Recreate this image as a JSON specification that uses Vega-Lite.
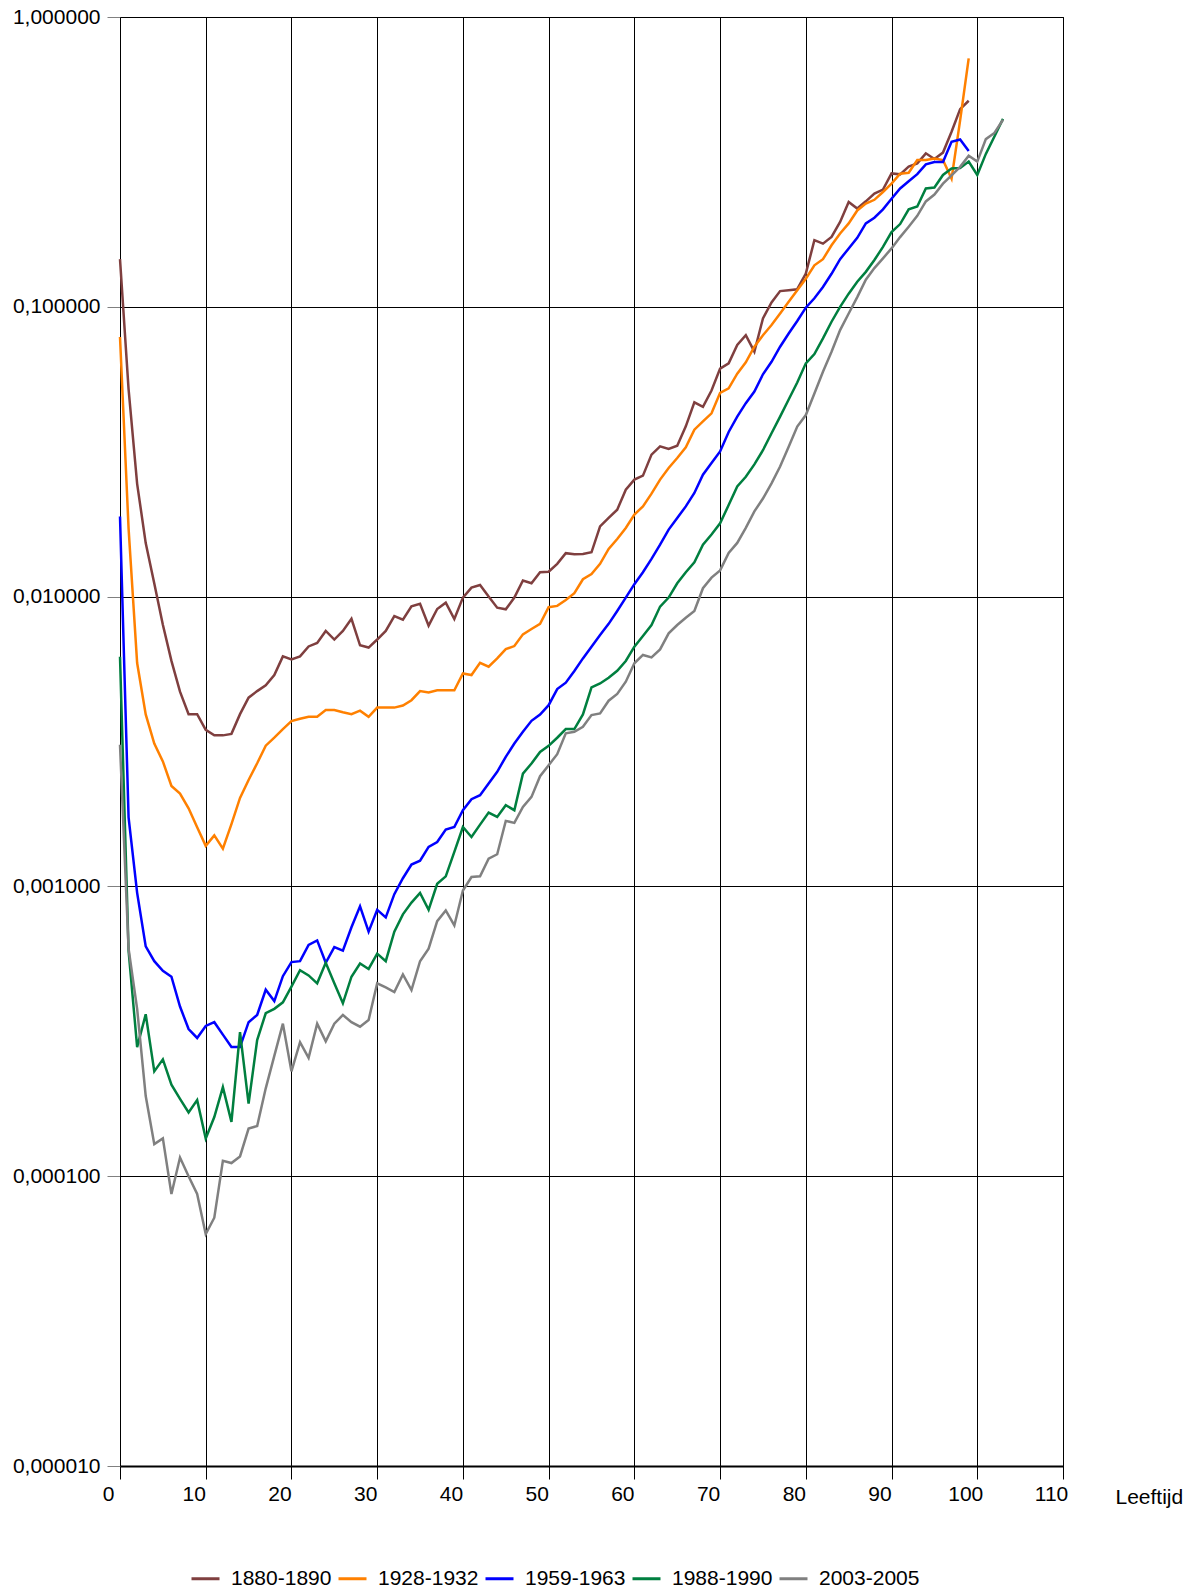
{
"$schema":"https://vega.github.io/schema/vega-lite/v6.json",
"width":943,"height":1449,
"autosize":{"type":"none"},
"padding":{"left":120,"top":17,"right":132,"bottom":123},
"background":"white",
"config":{"font":"Liberation Sans","view":{"stroke":"black","strokeWidth":1}},
"data":{"values":[
{"age":0,"period":"1880-1890","q":0.146},{"age":1,"period":"1880-1890","q":0.052},{"age":2,"period":"1880-1890","q":0.0245},{"age":3,"period":"1880-1890","q":0.0153},{"age":4,"period":"1880-1890","q":0.0111},{"age":5,"period":"1880-1890","q":0.0080},{"age":6,"period":"1880-1890","q":0.0060},{"age":7,"period":"1880-1890","q":0.0047},{"age":8,"period":"1880-1890","q":0.00393},{"age":9,"period":"1880-1890","q":0.00393},
{"age":10,"period":"1880-1890","q":0.00347},{"age":11,"period":"1880-1890","q":0.00332},{"age":12,"period":"1880-1890","q":0.00332},{"age":13,"period":"1880-1890","q":0.00336},{"age":14,"period":"1880-1890","q":0.00393},{"age":15,"period":"1880-1890","q":0.00448},{"age":16,"period":"1880-1890","q":0.00472},{"age":17,"period":"1880-1890","q":0.00494},{"age":18,"period":"1880-1890","q":0.00536},{"age":19,"period":"1880-1890","q":0.00622},
{"age":20,"period":"1880-1890","q":0.00607},{"age":21,"period":"1880-1890","q":0.00622},{"age":22,"period":"1880-1890","q":0.00673},{"age":23,"period":"1880-1890","q":0.00692},{"age":24,"period":"1880-1890","q":0.00761},{"age":25,"period":"1880-1890","q":0.00711},{"age":26,"period":"1880-1890","q":0.00761},{"age":27,"period":"1880-1890","q":0.00838},{"age":28,"period":"1880-1890","q":0.00679},{"age":29,"period":"1880-1890","q":0.00667},
{"age":30,"period":"1880-1890","q":0.00711},{"age":31,"period":"1880-1890","q":0.00761},{"age":32,"period":"1880-1890","q":0.00856},{"age":33,"period":"1880-1890","q":0.00832},{"age":34,"period":"1880-1890","q":0.00925},{"age":35,"period":"1880-1890","q":0.00945},{"age":36,"period":"1880-1890","q":0.00794},{"age":37,"period":"1880-1890","q":0.00906},{"age":38,"period":"1880-1890","q":0.00953},{"age":39,"period":"1880-1890","q":0.00837},
{"age":40,"period":"1880-1890","q":0.00992},{"age":41,"period":"1880-1890","q":0.01074},{"age":42,"period":"1880-1890","q":0.01097},{"age":43,"period":"1880-1890","q":0.0100},{"age":44,"period":"1880-1890","q":0.00916},{"age":45,"period":"1880-1890","q":0.00904},{"age":46,"period":"1880-1890","q":0.00992},{"age":47,"period":"1880-1890","q":0.01136},{"age":48,"period":"1880-1890","q":0.01112},{"age":49,"period":"1880-1890","q":0.01213},
{"age":50,"period":"1880-1890","q":0.01219},{"age":51,"period":"1880-1890","q":0.01297},{"age":52,"period":"1880-1890","q":0.01412},{"age":53,"period":"1880-1890","q":0.01400},{"age":54,"period":"1880-1890","q":0.01403},{"age":55,"period":"1880-1890","q":0.01422},{"age":56,"period":"1880-1890","q":0.01748},{"age":57,"period":"1880-1890","q":0.01868},{"age":58,"period":"1880-1890","q":0.01995},{"age":59,"period":"1880-1890","q":0.02339},
{"age":60,"period":"1880-1890","q":0.02533},{"age":61,"period":"1880-1890","q":0.02614},{"age":62,"period":"1880-1890","q":0.03090},{"age":63,"period":"1880-1890","q":0.03300},{"age":64,"period":"1880-1890","q":0.03231},{"age":65,"period":"1880-1890","q":0.03318},{"age":66,"period":"1880-1890","q":0.03868},{"age":67,"period":"1880-1890","q":0.04680},{"age":68,"period":"1880-1890","q":0.0452},{"age":69,"period":"1880-1890","q":0.0514},
{"age":70,"period":"1880-1890","q":0.0612},{"age":71,"period":"1880-1890","q":0.0638},{"age":72,"period":"1880-1890","q":0.0738},{"age":73,"period":"1880-1890","q":0.0798},{"age":74,"period":"1880-1890","q":0.0700},{"age":75,"period":"1880-1890","q":0.0912},{"age":76,"period":"1880-1890","q":0.1035},{"age":77,"period":"1880-1890","q":0.1133},{"age":78,"period":"1880-1890","q":0.1141},{"age":79,"period":"1880-1890","q":0.1150},
{"age":80,"period":"1880-1890","q":0.1302},{"age":81,"period":"1880-1890","q":0.1698},{"age":82,"period":"1880-1890","q":0.1652},{"age":83,"period":"1880-1890","q":0.1742},{"age":84,"period":"1880-1890","q":0.1963},{"age":85,"period":"1880-1890","q":0.2301},{"age":86,"period":"1880-1890","q":0.2183},{"age":87,"period":"1880-1890","q":0.2312},{"age":88,"period":"1880-1890","q":0.2459},{"age":89,"period":"1880-1890","q":0.2538},
{"age":90,"period":"1880-1890","q":0.2886},{"age":91,"period":"1880-1890","q":0.2865},{"age":92,"period":"1880-1890","q":0.3045},{"age":93,"period":"1880-1890","q":0.3125},{"age":94,"period":"1880-1890","q":0.3385},{"age":95,"period":"1880-1890","q":0.3235},{"age":96,"period":"1880-1890","q":0.3405},{"age":97,"period":"1880-1890","q":0.402},{"age":98,"period":"1880-1890","q":0.481},{"age":99,"period":"1880-1890","q":0.514},

{"age":0,"period":"1928-1932","q":0.0787},{"age":1,"period":"1928-1932","q":0.0172},{"age":2,"period":"1928-1932","q":0.0059},{"age":3,"period":"1928-1932","q":0.00392},{"age":4,"period":"1928-1932","q":0.00311},{"age":5,"period":"1928-1932","q":0.0027},{"age":6,"period":"1928-1932","q":0.00222},{"age":7,"period":"1928-1932","q":0.00209},{"age":8,"period":"1928-1932","q":0.00186},{"age":9,"period":"1928-1932","q":0.0016},
{"age":10,"period":"1928-1932","q":0.00138},{"age":11,"period":"1928-1932","q":0.0015},{"age":12,"period":"1928-1932","q":0.00135},{"age":13,"period":"1928-1932","q":0.00164},{"age":14,"period":"1928-1932","q":0.00202},{"age":15,"period":"1928-1932","q":0.00233},{"age":16,"period":"1928-1932","q":0.00266},{"age":17,"period":"1928-1932","q":0.00306},{"age":18,"period":"1928-1932","q":0.00326},{"age":19,"period":"1928-1932","q":0.00349},
{"age":20,"period":"1928-1932","q":0.00372},{"age":21,"period":"1928-1932","q":0.00379},{"age":22,"period":"1928-1932","q":0.00385},{"age":23,"period":"1928-1932","q":0.00385},{"age":24,"period":"1928-1932","q":0.00406},{"age":25,"period":"1928-1932","q":0.00406},{"age":26,"period":"1928-1932","q":0.00399},{"age":27,"period":"1928-1932","q":0.00393},{"age":28,"period":"1928-1932","q":0.00404},{"age":29,"period":"1928-1932","q":0.00385},
{"age":30,"period":"1928-1932","q":0.00414},{"age":31,"period":"1928-1932","q":0.00414},{"age":32,"period":"1928-1932","q":0.00414},{"age":33,"period":"1928-1932","q":0.00421},{"age":34,"period":"1928-1932","q":0.00439},{"age":35,"period":"1928-1932","q":0.00472},{"age":36,"period":"1928-1932","q":0.00467},{"age":37,"period":"1928-1932","q":0.00475},{"age":38,"period":"1928-1932","q":0.00475},{"age":39,"period":"1928-1932","q":0.00475},
{"age":40,"period":"1928-1932","q":0.00543},{"age":41,"period":"1928-1932","q":0.00536},{"age":42,"period":"1928-1932","q":0.00591},{"age":43,"period":"1928-1932","q":0.00573},{"age":44,"period":"1928-1932","q":0.00612},{"age":45,"period":"1928-1932","q":0.00659},{"age":46,"period":"1928-1932","q":0.00675},{"age":47,"period":"1928-1932","q":0.00741},{"age":48,"period":"1928-1932","q":0.00773},{"age":49,"period":"1928-1932","q":0.00805},
{"age":50,"period":"1928-1932","q":0.00919},{"age":51,"period":"1928-1932","q":0.00929},{"age":52,"period":"1928-1932","q":0.00974},{"age":53,"period":"1928-1932","q":0.01027},{"age":54,"period":"1928-1932","q":0.01148},{"age":55,"period":"1928-1932","q":0.01197},{"age":56,"period":"1928-1932","q":0.01297},{"age":57,"period":"1928-1932","q":0.0146},{"age":58,"period":"1928-1932","q":0.01581},{"age":59,"period":"1928-1932","q":0.01726},
{"age":60,"period":"1928-1932","q":0.01918},{"age":61,"period":"1928-1932","q":0.02048},{"age":62,"period":"1928-1932","q":0.02266},{"age":63,"period":"1928-1932","q":0.02533},{"age":64,"period":"1928-1932","q":0.02779},{"age":65,"period":"1928-1932","q":0.03009},{"age":66,"period":"1928-1932","q":0.03273},{"age":67,"period":"1928-1932","q":0.03767},{"age":68,"period":"1928-1932","q":0.04024},{"age":69,"period":"1928-1932","q":0.0429},
{"age":70,"period":"1928-1932","q":0.0505},{"age":71,"period":"1928-1932","q":0.0523},{"age":72,"period":"1928-1932","q":0.0588},{"age":73,"period":"1928-1932","q":0.0643},{"age":74,"period":"1928-1932","q":0.0728},{"age":75,"period":"1928-1932","q":0.0798},{"age":76,"period":"1928-1932","q":0.0865},{"age":77,"period":"1928-1932","q":0.0948},{"age":78,"period":"1928-1932","q":0.104},{"age":79,"period":"1928-1932","q":0.114},
{"age":80,"period":"1928-1932","q":0.125},{"age":81,"period":"1928-1932","q":0.139},{"age":82,"period":"1928-1932","q":0.146},{"age":83,"period":"1928-1932","q":0.163},{"age":84,"period":"1928-1932","q":0.179},{"age":85,"period":"1928-1932","q":0.194},{"age":86,"period":"1928-1932","q":0.215},{"age":87,"period":"1928-1932","q":0.227},{"age":88,"period":"1928-1932","q":0.234},{"age":89,"period":"1928-1932","q":0.249},
{"age":90,"period":"1928-1932","q":0.266},{"age":91,"period":"1928-1932","q":0.288},{"age":92,"period":"1928-1932","q":0.29},{"age":93,"period":"1928-1932","q":0.321},{"age":94,"period":"1928-1932","q":0.321},{"age":95,"period":"1928-1932","q":0.325},{"age":96,"period":"1928-1932","q":0.321},{"age":97,"period":"1928-1932","q":0.277},{"age":98,"period":"1928-1932","q":0.44},{"age":99,"period":"1928-1932","q":0.72},

{"age":0,"period":"1959-1963","q":0.0189},{"age":1,"period":"1959-1963","q":0.00173},{"age":2,"period":"1959-1963","q":0.00095},{"age":3,"period":"1959-1963","q":0.000621},{"age":4,"period":"1959-1963","q":0.000552},{"age":5,"period":"1959-1963","q":0.000511},{"age":6,"period":"1959-1963","q":0.000488},{"age":7,"period":"1959-1963","q":0.000385},{"age":8,"period":"1959-1963","q":0.000322},{"age":9,"period":"1959-1963","q":0.0003},
{"age":10,"period":"1959-1963","q":0.00033},{"age":11,"period":"1959-1963","q":0.00034},{"age":12,"period":"1959-1963","q":0.000308},{"age":13,"period":"1959-1963","q":0.000279},{"age":14,"period":"1959-1963","q":0.000279},{"age":15,"period":"1959-1963","q":0.00034},{"age":16,"period":"1959-1963","q":0.00036},{"age":17,"period":"1959-1963","q":0.00044},{"age":18,"period":"1959-1963","q":0.000402},{"age":19,"period":"1959-1963","q":0.00049},
{"age":20,"period":"1959-1963","q":0.000548},{"age":21,"period":"1959-1963","q":0.000552},{"age":22,"period":"1959-1963","q":0.000628},{"age":23,"period":"1959-1963","q":0.000651},{"age":24,"period":"1959-1963","q":0.000545},{"age":25,"period":"1959-1963","q":0.000617},{"age":26,"period":"1959-1963","q":0.0006},{"age":27,"period":"1959-1963","q":0.000723},{"age":28,"period":"1959-1963","q":0.000854},{"age":29,"period":"1959-1963","q":0.000698},
{"age":30,"period":"1959-1963","q":0.00083},{"age":31,"period":"1959-1963","q":0.000782},{"age":32,"period":"1959-1963","q":0.00094},{"age":33,"period":"1959-1963","q":0.001067},{"age":34,"period":"1959-1963","q":0.00119},{"age":35,"period":"1959-1963","q":0.001226},{"age":36,"period":"1959-1963","q":0.001368},{"age":37,"period":"1959-1963","q":0.001423},{"age":38,"period":"1959-1963","q":0.00157},{"age":39,"period":"1959-1963","q":0.001603},
{"age":40,"period":"1959-1963","q":0.001832},{"age":41,"period":"1959-1963","q":0.002},{"age":42,"period":"1959-1963","q":0.002065},{"age":43,"period":"1959-1963","q":0.002266},{"age":44,"period":"1959-1963","q":0.002486},{"age":45,"period":"1959-1963","q":0.0028},{"age":46,"period":"1959-1963","q":0.003113},{"age":47,"period":"1959-1963","q":0.003415},{"age":48,"period":"1959-1963","q":0.003726},{"age":49,"period":"1959-1963","q":0.003918},
{"age":50,"period":"1959-1963","q":0.004221},{"age":51,"period":"1959-1963","q":0.004797},{"age":52,"period":"1959-1963","q":0.005047},{"age":53,"period":"1959-1963","q":0.005536},{"age":54,"period":"1959-1963","q":0.00612},{"age":55,"period":"1959-1963","q":0.006719},{"age":56,"period":"1959-1963","q":0.007373},{"age":57,"period":"1959-1963","q":0.008051},{"age":58,"period":"1959-1963","q":0.00892},{"age":59,"period":"1959-1963","q":0.00992},
{"age":60,"period":"1959-1963","q":0.01104},{"age":61,"period":"1959-1963","q":0.01214},{"age":62,"period":"1959-1963","q":0.0135},{"age":63,"period":"1959-1963","q":0.01511},{"age":64,"period":"1959-1963","q":0.01703},{"age":65,"period":"1959-1963","q":0.01868},{"age":66,"period":"1959-1963","q":0.02048},{"age":67,"period":"1959-1963","q":0.02279},{"age":68,"period":"1959-1963","q":0.02635},{"age":69,"period":"1959-1963","q":0.02891},
{"age":70,"period":"1959-1963","q":0.0317},{"age":71,"period":"1959-1963","q":0.037},{"age":72,"period":"1959-1963","q":0.0418},{"age":73,"period":"1959-1963","q":0.0465},{"age":74,"period":"1959-1963","q":0.051},{"age":75,"period":"1959-1963","q":0.0585},{"age":76,"period":"1959-1963","q":0.0646},{"age":77,"period":"1959-1963","q":0.0728},{"age":78,"period":"1959-1963","q":0.0809},{"age":79,"period":"1959-1963","q":0.0893},
{"age":80,"period":"1959-1963","q":0.0993},{"age":81,"period":"1959-1963","q":0.107},{"age":82,"period":"1959-1963","q":0.117},{"age":83,"period":"1959-1963","q":0.13},{"age":84,"period":"1959-1963","q":0.146},{"age":85,"period":"1959-1963","q":0.159},{"age":86,"period":"1959-1963","q":0.173},{"age":87,"period":"1959-1963","q":0.194},{"age":88,"period":"1959-1963","q":0.203},{"age":89,"period":"1959-1963","q":0.217},
{"age":90,"period":"1959-1963","q":0.236},{"age":91,"period":"1959-1963","q":0.256},{"age":92,"period":"1959-1963","q":0.271},{"age":93,"period":"1959-1963","q":0.287},{"age":94,"period":"1959-1963","q":0.31},{"age":95,"period":"1959-1963","q":0.316},{"age":96,"period":"1959-1963","q":0.316},{"age":97,"period":"1959-1963","q":0.371},{"age":98,"period":"1959-1963","q":0.378},{"age":99,"period":"1959-1963","q":0.345},

{"age":0,"period":"1988-1990","q":0.0062},{"age":1,"period":"1988-1990","q":0.0006},{"age":2,"period":"1988-1990","q":0.000279},{"age":3,"period":"1988-1990","q":0.000362},{"age":4,"period":"1988-1990","q":0.00023},{"age":5,"period":"1988-1990","q":0.000253},{"age":6,"period":"1988-1990","q":0.000207},{"age":7,"period":"1988-1990","q":0.000185},{"age":8,"period":"1988-1990","q":0.000166},{"age":9,"period":"1988-1990","q":0.000183},
{"age":10,"period":"1988-1990","q":0.000135},{"age":11,"period":"1988-1990","q":0.00016},{"age":12,"period":"1988-1990","q":0.000203},{"age":13,"period":"1988-1990","q":0.000154},{"age":14,"period":"1988-1990","q":0.000314},{"age":15,"period":"1988-1990","q":0.000178},{"age":16,"period":"1988-1990","q":0.000295},{"age":17,"period":"1988-1990","q":0.000365},{"age":18,"period":"1988-1990","q":0.000378},{"age":19,"period":"1988-1990","q":0.000398},
{"age":20,"period":"1988-1990","q":0.000451},{"age":21,"period":"1988-1990","q":0.000514},{"age":22,"period":"1988-1990","q":0.000493},{"age":23,"period":"1988-1990","q":0.000463},{"age":24,"period":"1988-1990","q":0.000545},{"age":25,"period":"1988-1990","q":0.000463},{"age":26,"period":"1988-1990","q":0.000395},{"age":27,"period":"1988-1990","q":0.000488},{"age":28,"period":"1988-1990","q":0.000542},{"age":29,"period":"1988-1990","q":0.000519},
{"age":30,"period":"1988-1990","q":0.000586},{"age":31,"period":"1988-1990","q":0.000552},{"age":32,"period":"1988-1990","q":0.000698},{"age":33,"period":"1988-1990","q":0.000801},{"age":34,"period":"1988-1990","q":0.000879},{"age":35,"period":"1988-1990","q":0.00095},{"age":36,"period":"1988-1990","q":0.00083},{"age":37,"period":"1988-1990","q":0.001021},{"age":38,"period":"1988-1990","q":0.001083},{"age":39,"period":"1988-1990","q":0.001315},
{"age":40,"period":"1988-1990","q":0.001603},{"age":41,"period":"1988-1990","q":0.001481},{"age":42,"period":"1988-1990","q":0.001634},{"age":43,"period":"1988-1990","q":0.001798},{"age":44,"period":"1988-1990","q":0.001737},{"age":45,"period":"1988-1990","q":0.001906},{"age":46,"period":"1988-1990","q":0.001832},{"age":47,"period":"1988-1990","q":0.00245},{"age":48,"period":"1988-1990","q":0.002654},{"age":49,"period":"1988-1990","q":0.002911},
{"age":50,"period":"1988-1990","q":0.003055},{"age":51,"period":"1988-1990","q":0.003258},{"age":52,"period":"1988-1990","q":0.003491},{"age":53,"period":"1988-1990","q":0.003491},{"age":54,"period":"1988-1990","q":0.00392},{"age":55,"period":"1988-1990","q":0.004862},{"age":56,"period":"1988-1990","q":0.005016},{"age":57,"period":"1988-1990","q":0.005248},{"age":58,"period":"1988-1990","q":0.005549},{"age":59,"period":"1988-1990","q":0.005996},
{"age":60,"period":"1988-1990","q":0.006719},{"age":61,"period":"1988-1990","q":0.00731},{"age":62,"period":"1988-1990","q":0.007977},{"age":63,"period":"1988-1990","q":0.009237},{"age":64,"period":"1988-1990","q":0.00992},{"age":65,"period":"1988-1990","q":0.01112},{"age":66,"period":"1988-1990","q":0.01214},{"age":67,"period":"1988-1990","q":0.01314},{"age":68,"period":"1988-1990","q":0.01511},{"age":69,"period":"1988-1990","q":0.01637},
{"age":70,"period":"1988-1990","q":0.0179},{"age":71,"period":"1988-1990","q":0.0207},{"age":72,"period":"1988-1990","q":0.024},{"age":73,"period":"1988-1990","q":0.0259},{"age":74,"period":"1988-1990","q":0.0286},{"age":75,"period":"1988-1990","q":0.032},{"age":76,"period":"1988-1990","q":0.0366},{"age":77,"period":"1988-1990","q":0.0418},{"age":78,"period":"1988-1990","q":0.0479},{"age":79,"period":"1988-1990","q":0.0548},
{"age":80,"period":"1988-1990","q":0.0638},{"age":81,"period":"1988-1990","q":0.0687},{"age":82,"period":"1988-1990","q":0.0778},{"age":83,"period":"1988-1990","q":0.0888},{"age":84,"period":"1988-1990","q":0.1},{"age":85,"period":"1988-1990","q":0.111},{"age":86,"period":"1988-1990","q":0.122},{"age":87,"period":"1988-1990","q":0.132},{"age":88,"period":"1988-1990","q":0.145},{"age":89,"period":"1988-1990","q":0.161},
{"age":90,"period":"1988-1990","q":0.181},{"age":91,"period":"1988-1990","q":0.193},{"age":92,"period":"1988-1990","q":0.217},{"age":93,"period":"1988-1990","q":0.222},{"age":94,"period":"1988-1990","q":0.256},{"age":95,"period":"1988-1990","q":0.258},{"age":96,"period":"1988-1990","q":0.285},{"age":97,"period":"1988-1990","q":0.3},{"age":98,"period":"1988-1990","q":0.301},{"age":99,"period":"1988-1990","q":0.317},
{"age":100,"period":"1988-1990","q":0.285},{"age":101,"period":"1988-1990","q":0.337},{"age":102,"period":"1988-1990","q":0.387},{"age":103,"period":"1988-1990","q":0.445},

{"age":0,"period":"2003-2005","q":0.00308},{"age":1,"period":"2003-2005","q":0.00061},{"age":2,"period":"2003-2005","q":0.000378},{"age":3,"period":"2003-2005","q":0.000189},{"age":4,"period":"2003-2005","q":0.000129},{"age":5,"period":"2003-2005","q":0.000135},{"age":6,"period":"2003-2005","q":0.0000868},{"age":7,"period":"2003-2005","q":0.000116},{"age":8,"period":"2003-2005","q":0.0001},{"age":9,"period":"2003-2005","q":0.0000868},
{"age":10,"period":"2003-2005","q":0.0000631},{"age":11,"period":"2003-2005","q":0.0000719},{"age":12,"period":"2003-2005","q":0.000113},{"age":13,"period":"2003-2005","q":0.000111},{"age":14,"period":"2003-2005","q":0.000117},{"age":15,"period":"2003-2005","q":0.000146},{"age":16,"period":"2003-2005","q":0.000149},{"age":17,"period":"2003-2005","q":0.000201},{"age":18,"period":"2003-2005","q":0.00026},{"age":19,"period":"2003-2005","q":0.000336},
{"age":20,"period":"2003-2005","q":0.00023},{"age":21,"period":"2003-2005","q":0.00029},{"age":22,"period":"2003-2005","q":0.000256},{"age":23,"period":"2003-2005","q":0.000336},{"age":24,"period":"2003-2005","q":0.000292},{"age":25,"period":"2003-2005","q":0.000336},{"age":26,"period":"2003-2005","q":0.00036},{"age":27,"period":"2003-2005","q":0.00034},{"age":28,"period":"2003-2005","q":0.000328},{"age":29,"period":"2003-2005","q":0.000346},
{"age":30,"period":"2003-2005","q":0.000463},{"age":31,"period":"2003-2005","q":0.000448},{"age":32,"period":"2003-2005","q":0.000432},{"age":33,"period":"2003-2005","q":0.000497},{"age":34,"period":"2003-2005","q":0.000439},{"age":35,"period":"2003-2005","q":0.000552},{"age":36,"period":"2003-2005","q":0.00061},{"age":37,"period":"2003-2005","q":0.000759},{"age":38,"period":"2003-2005","q":0.000826},{"age":39,"period":"2003-2005","q":0.000733},
{"age":40,"period":"2003-2005","q":0.000968},{"age":41,"period":"2003-2005","q":0.001077},{"age":42,"period":"2003-2005","q":0.001083},{"age":43,"period":"2003-2005","q":0.001247},{"age":44,"period":"2003-2005","q":0.001291},{"age":45,"period":"2003-2005","q":0.001683},{"age":46,"period":"2003-2005","q":0.001656},{"age":47,"period":"2003-2005","q":0.00188},{"age":48,"period":"2003-2005","q":0.002037},{"age":49,"period":"2003-2005","q":0.002401},
{"age":50,"period":"2003-2005","q":0.00262},{"age":51,"period":"2003-2005","q":0.002858},{"age":52,"period":"2003-2005","q":0.003373},{"age":53,"period":"2003-2005","q":0.003415},{"age":54,"period":"2003-2005","q":0.003553},{"age":55,"period":"2003-2005","q":0.0039},{"age":56,"period":"2003-2005","q":0.003953},{"age":57,"period":"2003-2005","q":0.004372},{"age":58,"period":"2003-2005","q":0.004612},{"age":59,"period":"2003-2005","q":0.005085},
{"age":60,"period":"2003-2005","q":0.005885},{"age":61,"period":"2003-2005","q":0.006289},{"age":62,"period":"2003-2005","q":0.00617},{"age":63,"period":"2003-2005","q":0.006571},{"age":64,"period":"2003-2005","q":0.007469},{"age":65,"period":"2003-2005","q":0.007977},{"age":66,"period":"2003-2005","q":0.008458},{"age":67,"period":"2003-2005","q":0.00892},{"age":68,"period":"2003-2005","q":0.01069},{"age":69,"period":"2003-2005","q":0.01163},
{"age":70,"period":"2003-2005","q":0.01232},{"age":71,"period":"2003-2005","q":0.01415},{"age":72,"period":"2003-2005","q":0.01532},{"age":73,"period":"2003-2005","q":0.01726},{"age":74,"period":"2003-2005","q":0.01968},{"age":75,"period":"2003-2005","q":0.0218},{"age":76,"period":"2003-2005","q":0.0246},{"age":77,"period":"2003-2005","q":0.0281},{"age":78,"period":"2003-2005","q":0.0329},{"age":79,"period":"2003-2005","q":0.0386},
{"age":80,"period":"2003-2005","q":0.0423},{"age":81,"period":"2003-2005","q":0.0502},{"age":82,"period":"2003-2005","q":0.0597},{"age":83,"period":"2003-2005","q":0.07},{"age":84,"period":"2003-2005","q":0.0831},{"age":85,"period":"2003-2005","q":0.0948},{"age":86,"period":"2003-2005","q":0.108},{"age":87,"period":"2003-2005","q":0.124},{"age":88,"period":"2003-2005","q":0.136},{"age":89,"period":"2003-2005","q":0.147},
{"age":90,"period":"2003-2005","q":0.159},{"age":91,"period":"2003-2005","q":0.174},{"age":92,"period":"2003-2005","q":0.189},{"age":93,"period":"2003-2005","q":0.206},{"age":94,"period":"2003-2005","q":0.231},{"age":95,"period":"2003-2005","q":0.244},{"age":96,"period":"2003-2005","q":0.266},{"age":97,"period":"2003-2005","q":0.284},{"age":98,"period":"2003-2005","q":0.304},{"age":99,"period":"2003-2005","q":0.332},
{"age":100,"period":"2003-2005","q":0.317},{"age":101,"period":"2003-2005","q":0.379},{"age":102,"period":"2003-2005","q":0.398},{"age":103,"period":"2003-2005","q":0.442}
]},
"mark":{"type":"line","strokeWidth":2.5,"clip":false},
"encoding":{
"x":{"field":"age","type":"quantitative",
"scale":{"domain":[0,110],"nice":false,"zero":false},
"axis":{"values":[0,10,20,30,40,50,60,70,80,90,100,110],"grid":true,"gridColor":"black","gridOpacity":1,"gridWidth":1,
"domainColor":"black","domainWidth":2,"tickColor":"black","tickSize":13,"tickWidth":1,
"labelFontSize":21,"labelColor":"black","labelPadding":4,"labelOffset":-12,"labelFlush":false,"labelOverlap":false,"labelFont":"Liberation Sans",
"title":"Leeftijd","titleFont":"Liberation Sans","titleFontSize":21,"titleFontWeight":"normal","titleColor":"black",
"titleAnchor":"start","titleAlign":"left","titleBaseline":"alphabetic","titleX":995,"titleY":37}},
"y":{"field":"q","type":"quantitative",
"scale":{"type":"log","domain":[0.00001,1],"nice":false},
"axis":{"values":[0.00001,0.0001,0.001,0.01,0.1,1],"grid":true,"gridColor":"black","gridOpacity":1,"gridWidth":1,
"domainColor":"black","domainWidth":1,"tickColor":"#808080","tickSize":13,"tickWidth":1,
"labelFontSize":21,"labelColor":"black","labelPadding":7,"labelFont":"Liberation Sans","labelOverlap":false,"labelFlush":false,
"labelExpr":"replace(format(datum.value, '.6f'), '.', ',')","title":null}},
"color":{"field":"period","type":"nominal",
"scale":{"domain":["1880-1890","1928-1932","1959-1963","1988-1990","2003-2005"],"range":["#7f3f3f","#ff8000","#0000ff","#007f3f","#808080"]},
"legend":{"title":null,"orient":"none","legendX":70,"legendY":1546,"direction":"horizontal","padding":0,
"symbolType":"stroke","symbolSize":784,"symbolStrokeWidth":3,"labelFontSize":21,"labelFont":"Liberation Sans","labelColor":"black",
"labelOffset":10,"columnPadding":0,"labelLimit":300}}
}
}
